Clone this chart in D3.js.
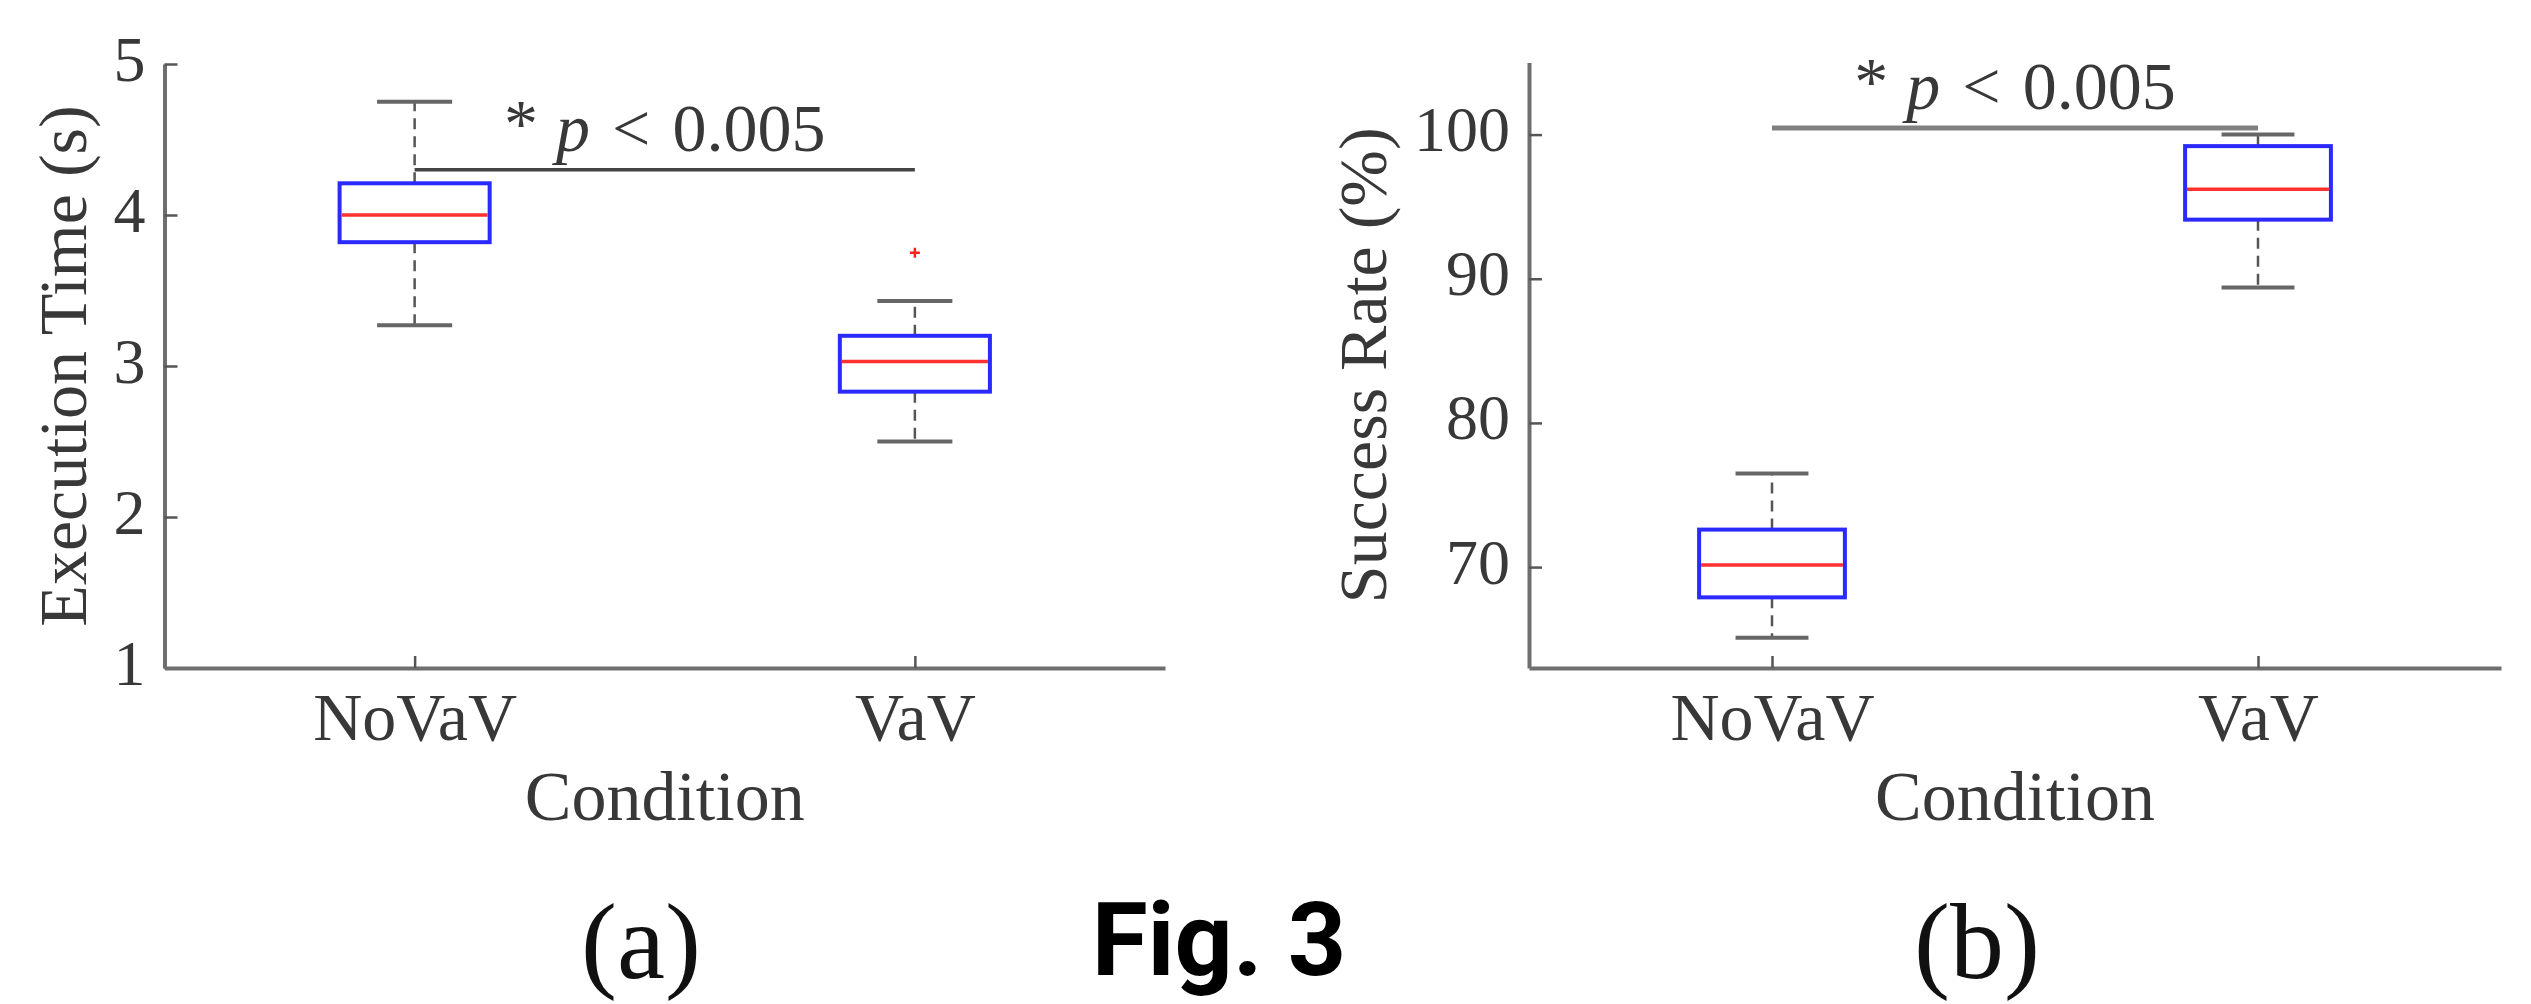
<!DOCTYPE html>
<html>
<head>
	<meta charset="utf-8">
	<script src="https://d3js.org/d3.v7.min.js"></script>
	<title>Fig. 3</title>
	<style>
		body { margin: 0; background: #fff; }
		svg { display: block; }
		.serif { font-family: "Liberation Serif", "DejaVu Serif", serif; fill: #383838; }
	</style>
</head>
<body>
	<div id="chart"></div>
	<script>

		// categories on both x axes
		let categories = ["NoVaV", "VaV"];

		// box stats: [min, q1, median, q3, max]
		let execNoVaV = [3.27, 3.82, 4.00, 4.21, 4.75];
		let execVaV = [2.50, 2.83, 3.03, 3.20, 3.43];
		let execOutliersVaV = [3.75];
		let execTicks = [1, 2, 3, 4, 5];
		let execDomain = [1, 5];
		let execSig = 4.30;

		let rateNoVaV = [65.1, 67.9, 70.15, 72.6, 76.5];
		let rateVaV = [89.4, 94.1, 96.2, 99.2, 100.0];
		let rateTicks = [70, 80, 90, 100];
		let rateDomain = [63, 105];
		let rateSig = 100.46;

		let sigLabel = ["*", "p", "<", "0.005"];

		let W = 2531, H = 1004;

		let svg = d3.select("#chart")
			.append("svg")
			.attr("width", W)
			.attr("height", H);

		svg.append("rect").attr("width", W).attr("height", H).attr("fill", "#fff");

		// panel layouts
		let panels = [
			{
				left: 164.5, right: 1165, top: 64, bottom: 668,
				domain: execDomain, ticks: execTicks, sig: execSig,
				sigColor: "#444", sigWidth: 3.5,
				ylabel: "Execution Time (s)", ylabelX: 86,
				boxes: [
					{ cat: "NoVaV", s: execNoVaV, out: [] },
					{ cat: "VaV", s: execVaV, out: execOutliersVaV }
				]
			},
			{
				left: 1529, right: 2501, top: 62.5, bottom: 668,
				domain: rateDomain, ticks: rateTicks, sig: rateSig,
				sigColor: "#808080", sigWidth: 5,
				ylabel: "Success Rate (%)", ylabelX: 1386,
				boxes: [
					{ cat: "NoVaV", s: rateNoVaV, out: [] },
					{ cat: "VaV", s: rateVaV, out: [] }
				]
			}
		];

		panels.forEach(function (p) {
			let x = d3.scalePoint().domain(categories).range([p.left, p.right]).padding(0.5);
			let y = d3.scaleLinear().domain(p.domain).range([p.bottom, p.top]);
			let boxW = x.step() * 0.3, capW = x.step() * 0.15;

			let g = svg.append("g");

			// axes (MATLAB style inward ticks)
			let ax = g.append("g")
				.attr("transform", "translate(" + p.left + ",0)")
				.call(d3.axisLeft(y).tickValues(p.ticks).tickFormat(d3.format("d"))
					.tickSize(-13).tickSizeOuter(0).tickPadding(19));
			ax.selectAll("text").attr("dy", "0.25em");

			let bx = g.append("g")
				.attr("transform", "translate(0," + p.bottom + ")")
				.call(d3.axisBottom(x).tickSize(-12).tickSizeOuter(0).tickPadding(24));

			[ax, bx].forEach(function (a) {
				a.attr("font-family", null).attr("font-size", null);
				a.select(".domain").attr("stroke", "#6e6e6e").attr("stroke-width", 4);
				a.selectAll(".tick line").attr("stroke", "#555").attr("stroke-width", 2.5);
				a.selectAll(".tick text").attr("class", "serif").attr("fill", null);
			});
			ax.selectAll(".tick text").style("font-size", "64px");
			bx.selectAll(".tick text").style("font-size", "68px");

			// boxes
			let b = g.selectAll(".bx").data(p.boxes).enter().append("g");

			b.append("line")
				.attr("x1", d => x(d.cat)).attr("x2", d => x(d.cat))
				.attr("y1", d => y(d.s[3])).attr("y2", d => y(d.s[4]))
				.attr("stroke", "#555").attr("stroke-width", 2.5).attr("stroke-dasharray", "11,7");
			b.append("line")
				.attr("x1", d => x(d.cat)).attr("x2", d => x(d.cat))
				.attr("y1", d => y(d.s[1])).attr("y2", d => y(d.s[0]))
				.attr("stroke", "#555").attr("stroke-width", 2.5).attr("stroke-dasharray", "11,7");

			[0, 4].forEach(function (k) {
				b.append("line")
					.attr("x1", d => x(d.cat) - capW / 2).attr("x2", d => x(d.cat) + capW / 2)
					.attr("y1", d => y(d.s[k])).attr("y2", d => y(d.s[k]))
					.attr("stroke", "#666").attr("stroke-width", 4);
			});

			b.append("rect")
				.attr("x", d => x(d.cat) - boxW / 2)
				.attr("y", d => y(d.s[3]))
				.attr("width", boxW)
				.attr("height", d => y(d.s[1]) - y(d.s[3]))
				.attr("fill", "none").attr("stroke", "#2a2aff").attr("stroke-width", 4);

			b.append("line")
				.attr("x1", d => x(d.cat) - boxW / 2 + 2).attr("x2", d => x(d.cat) + boxW / 2 - 2)
				.attr("y1", d => y(d.s[2])).attr("y2", d => y(d.s[2]))
				.attr("stroke", "#ff3030").attr("stroke-width", 3.5);

			b.selectAll(".out").data(d => d.out.map(v => ({ cat: d.cat, v: v }))).enter()
				.append("path")
				.attr("d", d => {
					let cx = x(d.cat), cy = y(d.v), r = 5;
					return "M" + (cx - r) + "," + cy + "H" + (cx + r) + "M" + cx + "," + (cy - r) + "V" + (cy + r);
				})
				.attr("stroke", "#ff2020").attr("stroke-width", 2.5);

			// significance bar
			let sy = y(p.sig);
			g.append("line")
				.attr("x1", x("NoVaV")).attr("x2", x("VaV"))
				.attr("y1", sy).attr("y2", sy)
				.attr("stroke", p.sigColor).attr("stroke-width", p.sigWidth);

			let mid = (x("NoVaV") + x("VaV")) / 2;
			let st = g.append("text").attr("class", "serif")
				.attr("x", mid).attr("y", sy - 19)
				.attr("text-anchor", "middle")
				.style("font-size", "68px");
			st.append("tspan").attr("dy", -5).text(sigLabel[0]);
			st.append("tspan").attr("dy", 5).attr("dx", 18).style("font-style", "italic").text(sigLabel[1]);
			st.append("tspan").attr("dx", 22).text(sigLabel[2]);
			st.append("tspan").attr("dx", 22).text(sigLabel[3]);

			// axis titles
			g.append("text").attr("class", "serif")
				.attr("transform", "translate(" + p.ylabelX + "," + ((p.top + p.bottom) / 2) + ") rotate(-90)")
				.attr("text-anchor", "middle")
				.style("font-size", "68px")
				.text(p.ylabel);

			g.append("text").attr("class", "serif")
				.attr("x", mid).attr("y", 820)
				.attr("text-anchor", "middle")
				.style("font-size", "70px")
				.text("Condition");
		});

		// captions
		svg.append("text").attr("class", "serif")
			.attr("x", 641).attr("y", 978).attr("text-anchor", "middle")
			.style("font-size", "108px").style("fill", "#111").text("(a)");
		svg.append("text").attr("class", "serif")
			.attr("x", 1977).attr("y", 978).attr("text-anchor", "middle")
			.style("font-size", "108px").style("fill", "#111").text("(b)");
		svg.append("text")
			.attr("x", 1219).attr("y", 975).attr("text-anchor", "middle")
			.style("font-family", "Roboto, 'Open Sans', sans-serif")
			.style("font-weight", 700).style("font-size", "102px")
			.attr("fill", "#000").text("Fig. 3");

	</script>
</body>
</html>
